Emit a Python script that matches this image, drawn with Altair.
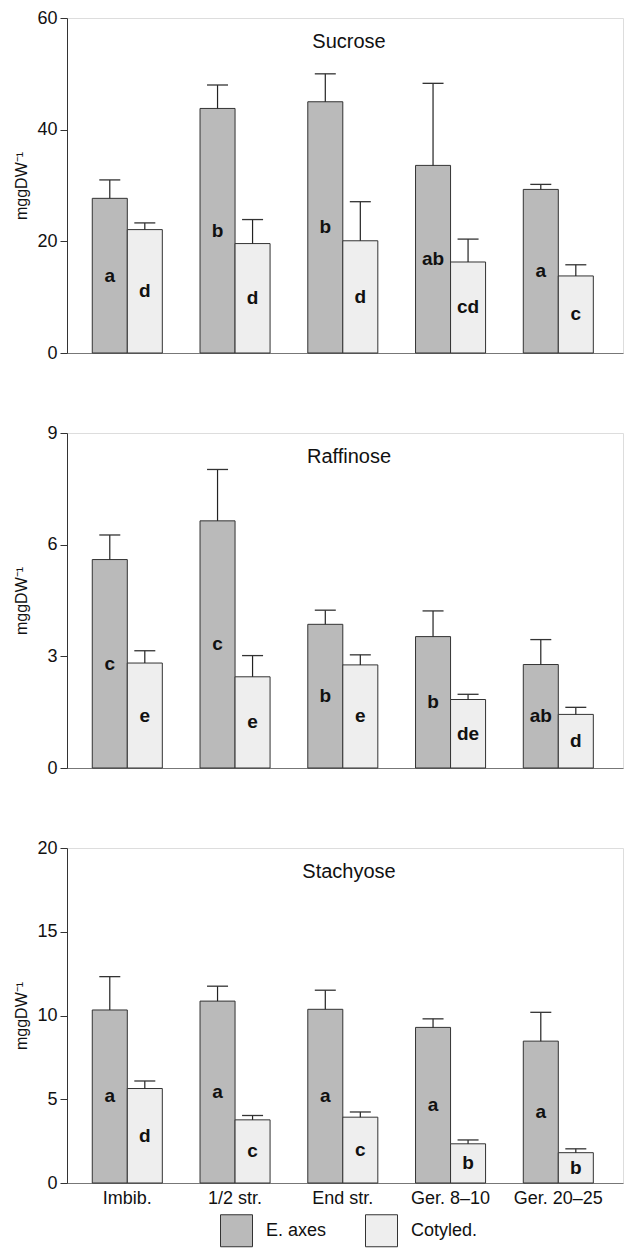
import altair as alt
import pandas as pd

FONT = "Liberation Sans"

stages = ["Imbib.", "1/2 str.", "End str.", "Ger. 8–10", "Ger. 20–25"]
series = ["E. axes", "Cotyled."]
colors = ["#bababa", "#eeeeee"]

# Sucrose
suc_axes = [27.7, 43.8, 45.0, 33.6, 29.3]
suc_axes_hi = [31.0, 48.0, 50.0, 48.3, 30.2]
suc_cot = [22.1, 19.6, 20.1, 16.3, 13.8]
suc_cot_hi = [23.3, 23.9, 27.1, 20.4, 15.8]
suc_axes_let = ["a", "b", "b", "ab", "a"]
suc_cot_let = ["d", "d", "d", "cd", "c"]

# Raffinose
raf_axes = [5.60, 6.64, 3.86, 3.53, 2.78]
raf_axes_hi = [6.26, 8.02, 4.24, 4.22, 3.45]
raf_cot = [2.82, 2.45, 2.77, 1.84, 1.44]
raf_cot_hi = [3.15, 3.02, 3.04, 1.98, 1.63]
raf_axes_let = ["c", "c", "b", "b", "ab"]
raf_cot_let = ["e", "e", "e", "de", "d"]

# Stachyose
sta_axes = [10.33, 10.86, 10.37, 9.29, 8.47]
sta_axes_hi = [12.32, 11.75, 11.51, 9.80, 10.19]
sta_cot = [5.64, 3.77, 3.93, 2.34, 1.81]
sta_cot_hi = [6.09, 4.03, 4.24, 2.57, 2.04]
sta_axes_let = ["a", "a", "a", "a", "a"]
sta_cot_let = ["d", "c", "c", "b", "b"]

W = 556
H = 335


def panel(name, axes, axes_hi, cot, cot_hi, la, lc, ymax, yticks, bottom):
    rows = []
    for i, st in enumerate(stages):
        rows.append(dict(stage=st, series="E. axes", value=axes[i], hi=axes_hi[i], letter=la[i]))
        rows.append(dict(stage=st, series="Cotyled.", value=cot[i], hi=cot_hi[i], letter=lc[i]))
    df = pd.DataFrame(rows)

    if bottom:
        xaxis = alt.Axis(title=None, ticks=False, labelAngle=0, labelFontSize=18,
                         labelFont=FONT, labelColor="#111", labelPadding=6,
                         domainColor="#777", domainWidth=1.2)
    else:
        xaxis = alt.Axis(title=None, ticks=False, labels=False,
                         domainColor="#777", domainWidth=1.2)

    yaxis = alt.Axis(values=yticks, title="mggDW⁻¹", titleFontSize=16, titleFont=FONT,
                     titleFontWeight="normal", titleColor="#111", titlePadding=8,
                     labelFontSize=18, labelFont=FONT, labelColor="#111", labelPadding=3,
                     tickSize=7, tickColor="#333", domainColor="#333", grid=False,
                     minExtent=30, maxExtent=30)

    base = alt.Chart(df).encode(
        x=alt.X("stage:N", sort=stages, axis=xaxis,
                scale=alt.Scale(paddingInner=0.35, paddingOuter=0.255, align=0.46)),
        xOffset=alt.XOffset("series:N", sort=series,
                            scale=alt.Scale(paddingInner=0, paddingOuter=0)),
    )
    yscale = alt.Scale(domain=[0, ymax], nice=False)

    bars = base.mark_bar(stroke="#333", strokeWidth=1).encode(
        y=alt.Y("value:Q", scale=yscale, axis=yaxis),
        color=alt.Color("series:N", sort=series,
                        scale=alt.Scale(domain=series, range=colors),
                        legend=alt.Legend(title=None, orient="none", direction="horizontal",
                                          legendX=153, legendY=1196,
                                          symbolType="square", symbolSize=1024,
                                          symbolStrokeColor="#333", symbolStrokeWidth=1,
                                          symbolOpacity=1,
                                          labelFontSize=18, labelFont=FONT, labelColor="#111",
                                          labelOffset=13, columnPadding=36)),
    )
    rules = base.mark_rule(color="#222", strokeWidth=1.2).encode(
        y=alt.Y("value:Q", scale=yscale), y2="hi:Q")
    caps = base.mark_tick(size=21, thickness=1.3, color="#333", opacity=1).encode(
        y=alt.Y("hi:Q", scale=yscale))
    letters = base.transform_calculate(mid="datum.value / 2").mark_text(
        fontWeight="bold", fontSize=19, font=FONT, color="#111", baseline="middle"
    ).encode(y=alt.Y("mid:Q", scale=yscale), text="letter:N")
    title = alt.Chart(pd.DataFrame({"t": [name]})).mark_text(
        fontSize=20, font=FONT, color="#111", baseline="alphabetic", align="center"
    ).encode(x=alt.value(W / 2 + 4), y=alt.value(30), text="t:N")

    return alt.layer(bars, rules, caps, letters, title).properties(width=W, height=H)


p1 = panel("Sucrose", suc_axes, suc_axes_hi, suc_cot, suc_cot_hi,
           suc_axes_let, suc_cot_let, 60, [0, 20, 40, 60], False)
p2 = panel("Raffinose", raf_axes, raf_axes_hi, raf_cot, raf_cot_hi,
           raf_axes_let, raf_cot_let, 9, [0, 3, 6, 9], False)
p3 = panel("Stachyose", sta_axes, sta_axes_hi, sta_cot, sta_cot_hi,
           sta_axes_let, sta_cot_let, 20, [0, 5, 10, 15, 20], True)

chart = alt.vconcat(p1, p2, p3, spacing=60).properties(
    padding={"left": 4, "top": 0, "right": 0, "bottom": 0}
).configure_view(stroke="#222", strokeWidth=1).configure(background="white")

chart.save("out.html", embed_options={"renderer": "svg", "actions": False})
